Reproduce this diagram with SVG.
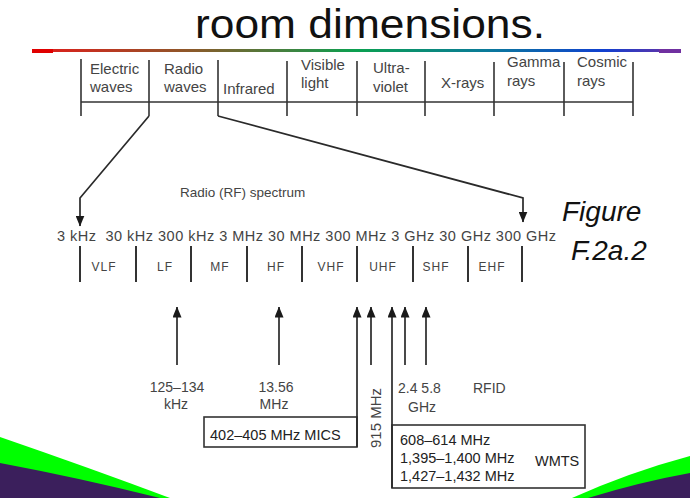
<svg xmlns="http://www.w3.org/2000/svg" width="690" height="498" viewBox="0 0 690 498">
<defs>
<linearGradient id="rainbow" x1="0" y1="0" x2="1" y2="0">
<stop offset="0" stop-color="#e41a1a"/>
<stop offset="0.25" stop-color="#8a5a2a"/>
<stop offset="0.5" stop-color="#0aa050"/>
<stop offset="0.7" stop-color="#0a7a9a"/>
<stop offset="0.88" stop-color="#1040d0"/>
<stop offset="1" stop-color="#7030a0"/>
</linearGradient>
<marker id="ah" viewBox="0 0 11 9" refX="10.5" refY="4.5" markerWidth="11" markerHeight="9" markerUnits="userSpaceOnUse" orient="auto">
<path d="M0,0 L11,4.5 L0,9 z" fill="#1a1a1a"/>
</marker>
<style>
.t{font-family:"Liberation Sans",Arial,sans-serif;fill:#444}
.col{font-size:15px}
.band{font-size:12px;letter-spacing:1px}
.lbl{font-size:14px}
.box{font-size:14.5px;fill:#222}
.ln{stroke:#333;stroke-width:1.6;fill:none}
.tk{stroke:#333;stroke-width:2;fill:none}
.arr{stroke:#2a2a2a;stroke-width:1.7;fill:none;marker-end:url(#ah)}
.fig{font-family:"Liberation Sans",Arial,sans-serif;font-style:italic;font-size:28px;fill:#111}
</style>
</defs>
<rect width="690" height="498" fill="#fff"/>

<g id="title">
<text x="195" y="38" font-family="Liberation Sans,Arial,sans-serif" font-size="40" fill="#111" textLength="350" lengthAdjust="spacingAndGlyphs">room dimensions.</text>
<rect x="32" y="49" width="649" height="3" fill="url(#rainbow)"/>
<rect x="32" y="49" width="21" height="4" fill="#e00000"/>
<rect x="659" y="49" width="22" height="4" fill="#7030a0"/>
</g>

<g id="decor">
<path d="M0,437 Q90,468 170,498 L0,498 Z" fill="#00ff00"/>
<path d="M0,463 Q80,478 160,498 L0,498 Z" fill="#3b1f5c"/>
<path d="M690,456 Q630,472 572,498 L690,498 Z" fill="#00ff00"/>
<path d="M690,473 Q640,482 588,498 L690,498 Z" fill="#3b1f5c"/>
</g>

<g id="em-spectrum">
<line class="ln" x1="81" y1="102" x2="633" y2="102"/>
<g class="ln">
<line x1="81" y1="59" x2="81" y2="116"/>
<line x1="149" y1="60" x2="149" y2="116"/>
<line x1="218" y1="60" x2="218" y2="116"/>
<line x1="287" y1="61" x2="287" y2="116"/>
<line x1="357" y1="61" x2="357" y2="116"/>
<line x1="425" y1="61" x2="425" y2="116"/>
<line x1="494" y1="62" x2="494" y2="116"/>
<line x1="564" y1="62" x2="564" y2="116"/>
<line x1="633" y1="62" x2="633" y2="116"/>
</g>
<g class="t col">
<text x="90" y="74">Electric</text><text x="90" y="92">waves</text>
<text x="164" y="74">Radio</text><text x="164" y="92">waves</text>
<text x="223" y="94">Infrared</text>
<text x="301" y="70">Visible</text><text x="301" y="88">light</text>
<text x="373" y="73">Ultra-</text><text x="373" y="92">violet</text>
<text x="441" y="88">X-rays</text>
<text x="507" y="67">Gamma</text><text x="507" y="86">rays</text>
<text x="577" y="67">Cosmic</text><text x="577" y="86">rays</text>
</g>
</g>

<g id="rf-spectrum">
<text class="t" x="180" y="197" font-size="13.5">Radio (RF) spectrum</text>
<text class="t" x="57" y="241" font-size="14.5" xml:space="preserve" textLength="499" lengthAdjust="spacing">3 kHz  30 kHz 300 kHz 3 MHz 30 MHz 300 MHz 3 GHz 30 GHz 300 GHz</text>
<g class="tk">
<line x1="80" y1="246" x2="80" y2="282"/>
<line x1="136" y1="246" x2="136" y2="282"/>
<line x1="191" y1="246" x2="191" y2="282"/>
<line x1="247" y1="246" x2="247" y2="282"/>
<line x1="302" y1="246" x2="302" y2="282"/>
<line x1="357" y1="246" x2="357" y2="282"/>
<line x1="413" y1="246" x2="413" y2="282"/>
<line x1="468" y1="246" x2="468" y2="282"/>
<line x1="522" y1="246" x2="522" y2="282"/>
</g>
<g class="t band" text-anchor="middle">
<text x="104" y="271">VLF</text>
<text x="165" y="271">LF</text>
<text x="220" y="271">MF</text>
<text x="276" y="271">HF</text>
<text x="331" y="271">VHF</text>
<text x="383" y="271">UHF</text>
<text x="436" y="271">SHF</text>
<text x="492" y="271">EHF</text>
</g>
</g>

<g id="figure-label">
<text class="fig" x="562" y="221">Figure</text>
<text class="fig" x="571" y="260">F.2a.2</text>
</g>

<g id="lbl-125">
<text class="t lbl" x="177" y="392" text-anchor="middle">125–134</text>
<text class="t lbl" x="176" y="409" text-anchor="middle">kHz</text>
</g>
<g id="lbl-1356">
<text class="t lbl" x="276" y="392" text-anchor="middle">13.56</text>
<text class="t lbl" x="274" y="409" text-anchor="middle">MHz</text>
</g>
<g id="lbl-915">
<text class="t" font-size="15" x="381" y="448" transform="rotate(-90 381 448)">915 MHz</text>
</g>
<g id="lbl-ghz">
<text class="t lbl" x="398" y="393">2.4 5.8</text>
<text class="t lbl" x="408" y="412">GHz</text>
<text class="t lbl" x="473" y="393">RFID</text>
</g>
<g id="box-mics">
<rect class="ln" x="204" y="417" width="153" height="30"/>
<text class="t box" x="210" y="440">402–405 MHz MICS</text>
</g>
<g id="box-wmts">
<rect class="ln" x="392" y="425" width="193" height="63"/>
<text class="t box" x="400" y="445">608–614 MHz</text>
<text class="t box" x="400" y="463">1,395–1,400 MHz</text>
<text class="t box" x="400" y="481">1,427–1,432 MHz</text>
<text class="t box" x="535" y="466">WMTS</text>
</g>

<g id="connectors">
<path class="arr" d="M149,116 L80,198 L80,226"/>
<path class="arr" d="M218,116 L523,198 L523,222"/>
<path class="arr" d="M177,365 L177,307"/>
<path class="arr" d="M279,365 L279,307"/>
<path class="arr" d="M357,447 L357,307"/>
<path class="arr" d="M371,365 L371,307"/>
<path class="arr" d="M392,488 L392,307"/>
<path class="arr" d="M405,365 L405,307"/>
<path class="arr" d="M426,365 L426,307"/>
</g>
</svg>
